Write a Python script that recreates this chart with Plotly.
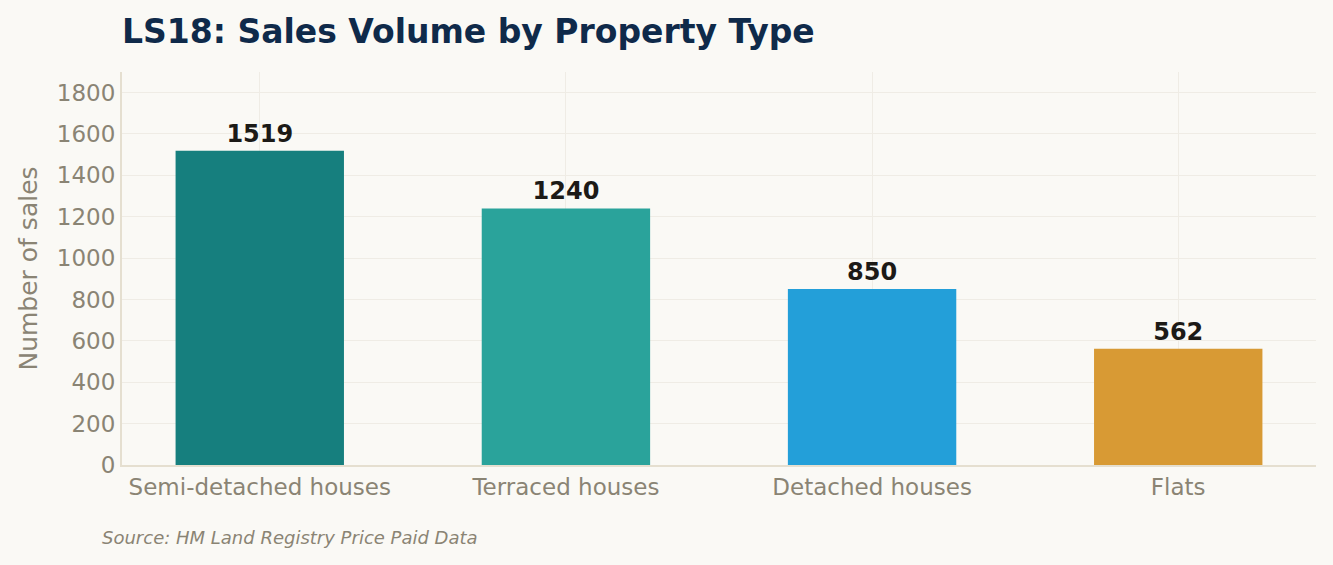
import plotly.graph_objects as go

# Data
property_types = ["Semi-detached houses", "Terraced houses", "Detached houses", "Flats"]
sales_volume = [1519, 1240, 850, 562]
bar_colours = ["#167f7e", "#2aa39b", "#239fd9", "#d89a34"]
y_ticks = [0, 200, 400, 600, 800, 1000, 1200, 1400, 1600, 1800]

bg = "#faf9f5"
muted = "#8a8474"

fig = go.Figure()
fig.add_trace(go.Bar(
    x=property_types,
    y=sales_volume,
    marker=dict(color=bar_colours, line=dict(width=0)),
    text=[str(v) for v in sales_volume],
    textposition="outside",
    textfont=dict(family="DejaVu Sans", size=24, color="#1c1a17", weight="bold"),
    cliponaxis=False,
    width=0.55,
    hovertemplate="%{x}: %{y}<extra></extra>",
))

fig.update_layout(
    width=1333, height=565,
    paper_bgcolor=bg, plot_bgcolor=bg,
    margin=dict(l=122, r=17, t=72, b=100),
    font=dict(family="DejaVu Sans", color=muted),
    showlegend=False,
    title=dict(
        text="<b>LS18: Sales Volume by Property Type</b>",
        font=dict(family="DejaVu Sans", size=33, color="#0f2a4a"),
        x=122 / 1333, xanchor="left", xref="container",
        y=1 - 31 / 565, yanchor="middle", yref="container",
    ),
)

fig.update_xaxes(
    range=[-0.45, 3.45],
    showgrid=True, gridcolor="#efece5", gridwidth=1,
    showline=True, linecolor="#e5dfd0", linewidth=2,
    ticks="", tickfont=dict(size=23, color=muted),
)
fig.update_yaxes(
    range=[0, 1899],
    tickvals=y_ticks,
    showgrid=True, gridcolor="#efece5", gridwidth=1,
    showline=True, linecolor="#e5dfd0", linewidth=2,
    zeroline=False,
    ticks="", tickfont=dict(size=23, color=muted),
    title=dict(text="Number of sales", font=dict(size=25, color=muted), standoff=12),
)

fig.add_annotation(
    text="<i>Source: HM Land Registry Price Paid Data</i>",
    xref="paper", yref="paper",
    x=(100 - 122) / 1194, y=(465 - 537) / 393,
    xanchor="left", yanchor="middle",
    showarrow=False,
    font=dict(family="DejaVu Sans", size=18, color=muted),
)

fig.write_html(
    "out.html",
    config={"displayModeBar": False},
    post_script="document.body.style.margin='0';document.body.style.background='#faf9f5';",
)
